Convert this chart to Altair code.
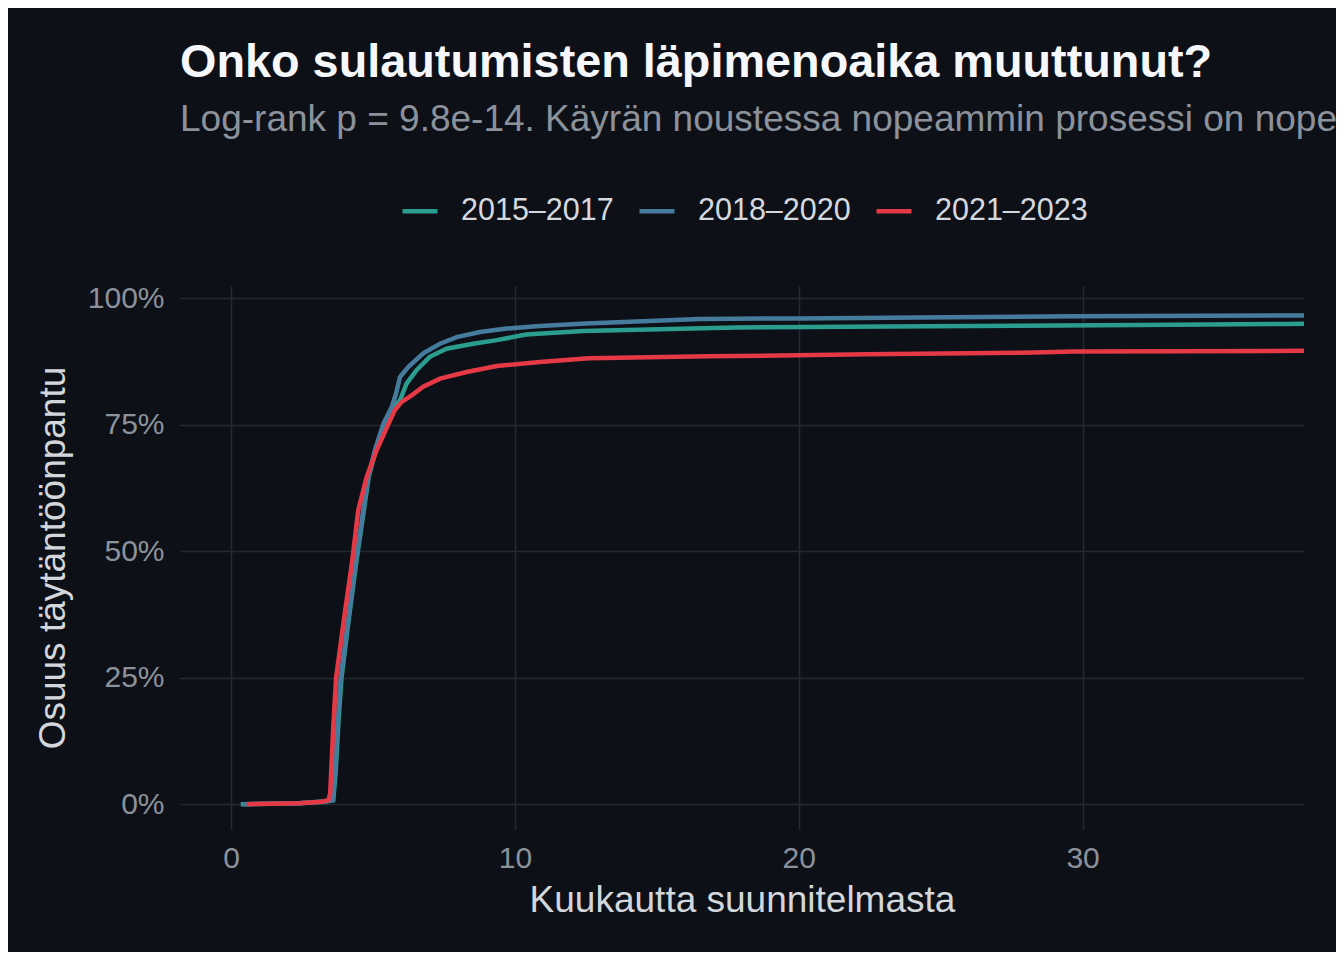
import altair as alt
import pandas as pd

periods = ["2015–2017", "2018–2020", "2021–2023"]
colors = ["#2a9d8f", "#457b9d", "#e63946"]

teal_month = [0.34, 2.4, 3.3, 3.6, 3.68, 3.78, 3.89, 4.15, 4.42, 4.85, 5.10, 5.40, 5.70, 5.95, 6.18, 6.54, 7.0, 7.59, 8.53, 9.36, 10.39, 12.4, 17.8, 26.1, 32.0, 37.1, 39.0]
teal_value = [0.0, 0.002, 0.005, 0.008, 0.06, 0.16, 0.25, 0.367, 0.482, 0.647, 0.70, 0.751, 0.783, 0.798, 0.831, 0.858, 0.884, 0.900, 0.910, 0.917, 0.928, 0.935, 0.942, 0.945, 0.947, 0.949, 0.950]

blue_month = [0.4, 2.4, 3.3, 3.58, 3.65, 3.75, 3.86, 4.13, 4.40, 4.83, 5.07, 5.36, 5.66, 5.81, 5.95, 6.24, 6.77, 7.36, 7.95, 8.77, 9.71, 10.88, 12.5, 16.5, 20.0, 24.2, 29.7, 39.0]
blue_value = [0.0, 0.002, 0.006, 0.008, 0.06, 0.16, 0.25, 0.367, 0.482, 0.647, 0.70, 0.751, 0.785, 0.811, 0.844, 0.864, 0.891, 0.910, 0.923, 0.933, 0.940, 0.945, 0.950, 0.959, 0.960, 0.962, 0.964, 0.966]

red_month = [0.55, 2.4, 3.2, 3.43, 3.49, 3.60, 3.70, 3.98, 4.27, 4.48, 4.78, 5.13, 5.54, 5.77, 6.01, 6.36, 6.77, 7.36, 8.30, 9.36, 10.88, 12.6, 16.8, 22.4, 27.9, 29.7, 39.0]
red_value = [0.0, 0.002, 0.005, 0.008, 0.021, 0.153, 0.25, 0.367, 0.482, 0.581, 0.647, 0.70, 0.751, 0.779, 0.795, 0.808, 0.825, 0.841, 0.854, 0.866, 0.874, 0.881, 0.885, 0.889, 0.892, 0.8946, 0.896]

x_ticks = [0, 10, 20, 30]
y_ticks = [0, 0.25, 0.5, 0.75, 1.0]

rows = []
for p, ms, vs in zip(periods, [teal_month, blue_month, red_month], [teal_value, blue_value, red_value]):
    for m, v in zip(ms, vs):
        rows.append({"period": p, "month": m, "value": v})
df = pd.DataFrame(rows)

BG = "#0d1017"
GRID = "#252932"

chart = alt.Chart(df).mark_line(strokeWidth=4.5, clip=True).encode(
    x=alt.X("month:Q",
            scale=alt.Scale(domain=[-1.8, 37.8], nice=False, zero=False),
            axis=alt.Axis(values=x_ticks, title="Kuukautta suunnitelmasta", labelPadding=14, titlePadding=9)),
    y=alt.Y("value:Q",
            scale=alt.Scale(domain=[-0.049, 1.024], nice=False, zero=False),
            axis=alt.Axis(values=y_ticks, format=".0%", title="Osuus täytäntöönpantu", labelPadding=16, titlePadding=15)),
    color=alt.Color("period:N",
                    scale=alt.Scale(domain=periods, range=colors),
                    legend=alt.Legend(title=None, orient="none", direction="horizontal",
                                      legendX=220, legendY=-95,
                                      symbolType="stroke", symbolSize=1225, symbolStrokeWidth=4.5,
                                      labelFontSize=30.5, labelColor="#d5d9df", labelOffset=21,
                                      columnPadding=16, labelFont="Liberation Sans")),
    order=alt.Order("month:Q"),
).properties(
    width=1124,
    height=543,
    title=alt.TitleParams(
        text="Onko sulautumisten läpimenoaika muuttunut?",
        subtitle="Log-rank p = 9.8e-14. Käyrän noustessa nopeammin prosessi on nopeampi.",
        anchor="start", frame="group",
        font="Liberation Sans", fontSize=46.8, fontWeight="bold", color="#f5f7fa",
        subtitleFont="Liberation Sans", subtitleFontSize=37, subtitleColor="#8c929b",
        subtitlePadding=15, offset=53,
    ),
    autosize=alt.AutoSizeParams(type="none"),
    padding={"left": 172, "top": 278, "right": 32, "bottom": 123},
).configure(
    background=BG,
).configure_view(
    stroke=None,
).configure_axis(
    domain=False, ticks=False,
    gridColor=GRID, gridWidth=1.5,
    labelFont="Liberation Sans", labelFontSize=30, labelColor="#8c929b",
    titleFont="Liberation Sans", titleFontSize=37, titleColor="#d3d7dc", titleFontWeight="normal",
)

chart.save("out.html", embed_options={"renderer": "svg", "actions": False})
